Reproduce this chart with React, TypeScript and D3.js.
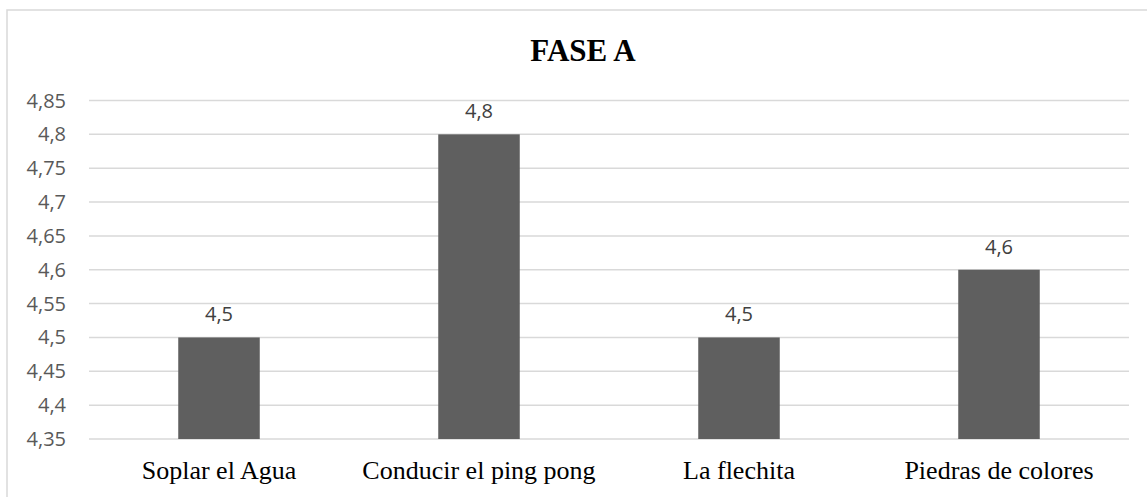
import * as d3 from 'd3';

const categories = ['Soplar el Agua', 'Conducir el ping pong', 'La flechita', 'Piedras de colores'];
const values = [4.5, 4.8, 4.5, 4.6];
const yTicks = [4.35, 4.4, 4.45, 4.5, 4.55, 4.6, 4.65, 4.7, 4.75, 4.8, 4.85];
const title = 'FASE A';

const W = 1147;
const H = 497;
const margin = { left: 89, right: 18, top: 100.5, bottom: 58 };

const fmt = (v: number) => String(+v.toFixed(2)).replace('.', ',');

export default function App() {
  const x = d3
    .scaleBand()
    .domain(categories)
    .range([margin.left, W - margin.right])
    .paddingInner(0)
    .paddingOuter(0);

  const y = d3
    .scaleLinear()
    .domain([4.35, 4.85])
    .range([H - margin.bottom, margin.top]);

  const barW = x.bandwidth() / 3.19;

  return (
    <svg
      width={W}
      height={H}
      style={{ position: 'fixed', left: 0, top: 0, background: '#fff' }}
    >
      <rect x={7} y={10} width={1152} height={520} fill="#fff" stroke="#d9d9d9" strokeWidth={1.5} />
      <text
        x={583}
        y={61}
        textAnchor="middle"
        fontFamily="'Liberation Serif', serif"
        fontWeight="bold"
        fontSize={31}
        fill="#000"
      >
        {title}
      </text>
      {yTicks.map((t) => (
        <g key={t}>
          <line
            x1={margin.left}
            x2={W - margin.right}
            y1={y(t)}
            y2={y(t)}
            stroke="#d9d9d9"
            strokeWidth={1.5}
          />
          <text
            x={66}
            y={y(t) + 7}
            textAnchor="end"
            fontFamily="'Open Sans', sans-serif"
            fontSize={20}
            fill="#595959"
          >
            {fmt(t)}
          </text>
        </g>
      ))}
      {categories.map((c, i) => {
        const cx = (x(c) || 0) + x.bandwidth() / 2;
        return (
          <g key={c}>
            <rect
              x={cx - barW / 2}
              y={y(values[i])}
              width={barW}
              height={y(4.35) - y(values[i])}
              fill="#5f5f5f"
            />
            <text
              x={cx}
              y={y(values[i]) - 16}
              textAnchor="middle"
              fontFamily="'Open Sans', sans-serif"
              fontSize={20}
              fill="#404040"
            >
              {fmt(values[i])}
            </text>
            <text
              x={cx}
              y={479}
              textAnchor="middle"
              fontFamily="'Liberation Serif', serif"
              fontSize={26}
              fill="#000"
            >
              {c}
            </text>
          </g>
        );
      })}
    </svg>
  );
}
